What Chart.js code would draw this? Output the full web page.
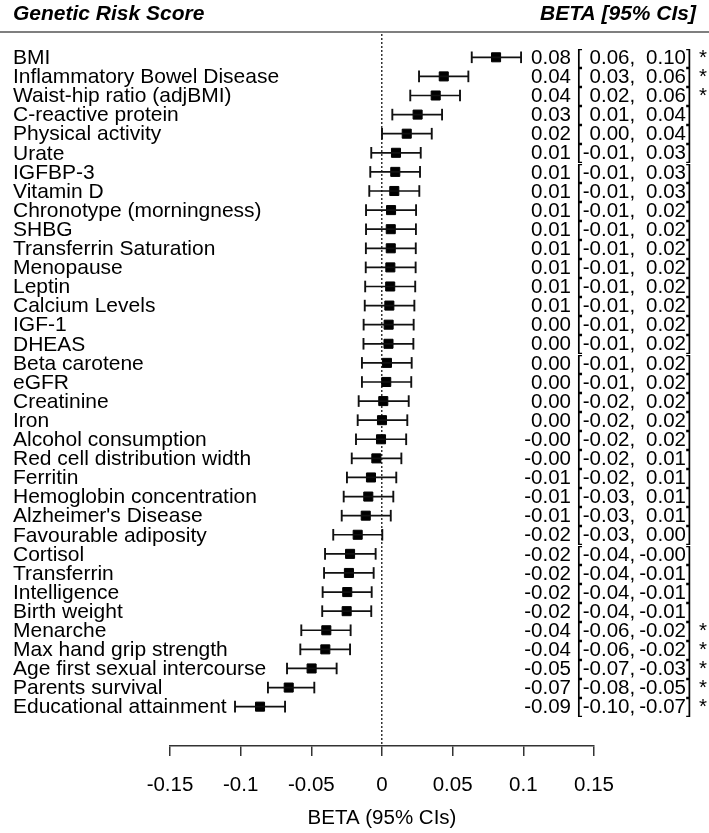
<!DOCTYPE html>
<html><head><meta charset="utf-8">
<script src="https://cdn.jsdelivr.net/npm/chart.js@4.4.0/dist/chart.umd.min.js"></script>
<style>html,body{margin:0;padding:0;background:#fff;} #wrap{position:relative;width:709px;height:833px;}</style>
</head><body><div id="wrap"><canvas id="c"></canvas></div>
<script>
const categories = ['BMI','Inflammatory Bowel Disease','Waist-hip ratio (adjBMI)','C-reactive protein','Physical activity','Urate','IGFBP-3','Vitamin D','Chronotype (morningness)','SHBG','Transferrin Saturation','Menopause','Leptin','Calcium Levels','IGF-1','DHEAS','Beta carotene','eGFR','Creatinine','Iron','Alcohol consumption','Red cell distribution width','Ferritin','Hemoglobin concentration',"Alzheimer's Disease",'Favourable adiposity','Cortisol','Transferrin','Intelligence','Birth weight','Menarche','Max hand grip strength','Age first sexual intercourse','Parents survival','Educational attainment'];
const beta   = [0.0807,0.0437,0.0380,0.0252,0.0175,0.0099,0.0094,0.0087,0.0064,0.0062,0.0062,0.0059,0.0058,0.0052,0.0047,0.0046,0.0035,0.0030,0.0009,0.0000,-0.0007,-0.0040,-0.0078,-0.0097,-0.0115,-0.0172,-0.0226,-0.0234,-0.0246,-0.0250,-0.0394,-0.0401,-0.0498,-0.0660,-0.0863];
const ciLow  = [0.0635,0.0262,0.0200,0.0073,0.0000,-0.0076,-0.0083,-0.0090,-0.0113,-0.0113,-0.0114,-0.0115,-0.0119,-0.0122,-0.0130,-0.0131,-0.0142,-0.0142,-0.0165,-0.0172,-0.0184,-0.0214,-0.0248,-0.0271,-0.0285,-0.0345,-0.0403,-0.0410,-0.0420,-0.0423,-0.0571,-0.0578,-0.0672,-0.0807,-0.1040];
const ciHigh = [0.0984,0.0611,0.0552,0.0425,0.0352,0.0274,0.0269,0.0264,0.0241,0.0240,0.0239,0.0238,0.0235,0.0229,0.0224,0.0222,0.0210,0.0207,0.0189,0.0179,0.0171,0.0137,0.0101,0.0080,0.0062,0.0002,-0.0045,-0.0059,-0.0073,-0.0076,-0.0222,-0.0226,-0.0321,-0.0479,-0.0686];
const betaText = ['0.08','0.04','0.04','0.03','0.02','0.01','0.01','0.01','0.01','0.01','0.01','0.01','0.01','0.01','0.00','0.00','0.00','0.00','0.00','0.00','-0.00','-0.00','-0.01','-0.01','-0.01','-0.02','-0.02','-0.02','-0.02','-0.02','-0.04','-0.04','-0.05','-0.07','-0.09'];
const lowText  = ['0.06','0.03','0.02','0.01','0.00','-0.01','-0.01','-0.01','-0.01','-0.01','-0.01','-0.01','-0.01','-0.01','-0.01','-0.01','-0.01','-0.01','-0.02','-0.02','-0.02','-0.02','-0.02','-0.03','-0.03','-0.03','-0.04','-0.04','-0.04','-0.04','-0.06','-0.06','-0.07','-0.08','-0.10'];
const highText = ['0.10','0.06','0.06','0.04','0.04','0.03','0.03','0.03','0.02','0.02','0.02','0.02','0.02','0.02','0.02','0.02','0.02','0.02','0.02','0.02','0.02','0.01','0.01','0.01','0.01','0.00','-0.00','-0.01','-0.01','-0.01','-0.02','-0.02','-0.03','-0.05','-0.07'];
const significant = [1,1,1,0,0,0,0,0,0,0,0,0,0,0,0,0,0,0,0,0,0,0,0,0,0,0,0,0,0,0,1,1,1,1,1];
const xTickValues = [-0.15,-0.1,-0.05,0,0.05,0.1,0.15];
const xTickLabels = ['-0.15','-0.1','-0.05','0','0.05','0.1','0.15'];

const FONT = '"Liberation Sans", Arial, Helvetica, sans-serif';

const ciData = [];
categories.forEach((_, i) => {
  ciData.push({x: ciLow[i], y: i}, {x: ciHigh[i], y: i}, {x: null, y: i});
});
const estData = beta.map((b, i) => ({x: b, y: i}));

const textPlugin = {
  id: 'forestText',
  afterDraw(chart) {
    const ctx = chart.ctx, ys = chart.scales.y;
    ctx.save();
    ctx.strokeStyle = '#555'; ctx.lineWidth = 1.5;
    ctx.beginPath(); ctx.moveTo(0, 32); ctx.lineTo(chart.width, 32); ctx.stroke();
    ctx.fillStyle = '#000';
    ctx.font = 'italic bold 21px ' + FONT;
    ctx.textBaseline = 'alphabetic';
    ctx.textAlign = 'left'; ctx.fillText('Genetic Risk Score', 13, 20);
    ctx.textAlign = 'right'; ctx.fillText('BETA [95% CIs]', 696, 20);
    ctx.textBaseline = 'middle';
    categories.forEach((c, i) => {
      const py = ys.getPixelForValue(i) + 1;
      ctx.font = '21px ' + FONT; ctx.textAlign = 'left';
      ctx.fillText(c, 13, py);
      ctx.font = '20.5px ' + FONT;
      ctx.textAlign = 'right';
      ctx.fillText(betaText[i], 571, py);
      ctx.fillText(lowText[i], 629.5, py);
      ctx.fillText(highText[i], 686, py);
      ctx.textAlign = 'left';
      ctx.fillText(',', 629.5, py);
      ctx.fillText('[', 576.5, py);
      ctx.fillText(']', 686, py);
      if (significant[i]) ctx.fillText('*', 699, py);
    });
    ctx.restore();
  }
};

new Chart(document.getElementById('c'), {
  type: 'scatter',
  data: { datasets: [
    { data: ciData, showLine: true, spanGaps: false, borderColor: '#111', borderWidth: 1.7,
      pointStyle: 'line', rotation: 90, pointRadius: 5.8, pointBorderWidth: 1.9, pointBorderColor: '#111', pointBackgroundColor: '#111' },
    { data: estData, pointStyle: 'rect', pointRadius: 6.4, pointBorderWidth: 1, backgroundColor: '#000', borderColor: '#000' }
  ]},
  options: {
    animation: false, responsive: true, maintainAspectRatio: false,
    layout: { padding: { left: 170, right: 115, top: 34, bottom: 0 } },
    plugins: { legend: { display: false }, tooltip: { enabled: false } },
    scales: {
      x: { type: 'linear', min: -0.15, max: 0.15,
        afterBuildTicks: s => { s.ticks = xTickValues.map(v => ({ value: v })); },
        afterFit: s => { s.height = 87; },
        ticks: { callback: (v, i) => xTickLabels[i], font: { family: FONT, size: 20.5 }, color: '#000', padding: 17, maxRotation: 0, autoSkip: false },
        grid: { drawOnChartArea: true, color: c => (c.tick && c.tick.value === 0) ? '#333' : 'rgba(0,0,0,0)', lineWidth: 1.5,
                drawTicks: true, tickLength: 10, tickColor: '#333', tickWidth: 1.5 },
        border: { display: true, color: '#333', width: 1.5, dash: [2, 2] },
        title: { display: true, text: 'BETA (95% CIs)', font: { family: FONT, size: 20.5 }, color: '#000', padding: { top: 6, bottom: 2 } }
      },
      y: { type: 'linear', display: false, reverse: true, min: -1.22, max: 36.06 }
    }
  },
  plugins: [textPlugin]
});
</script>
</body></html>
